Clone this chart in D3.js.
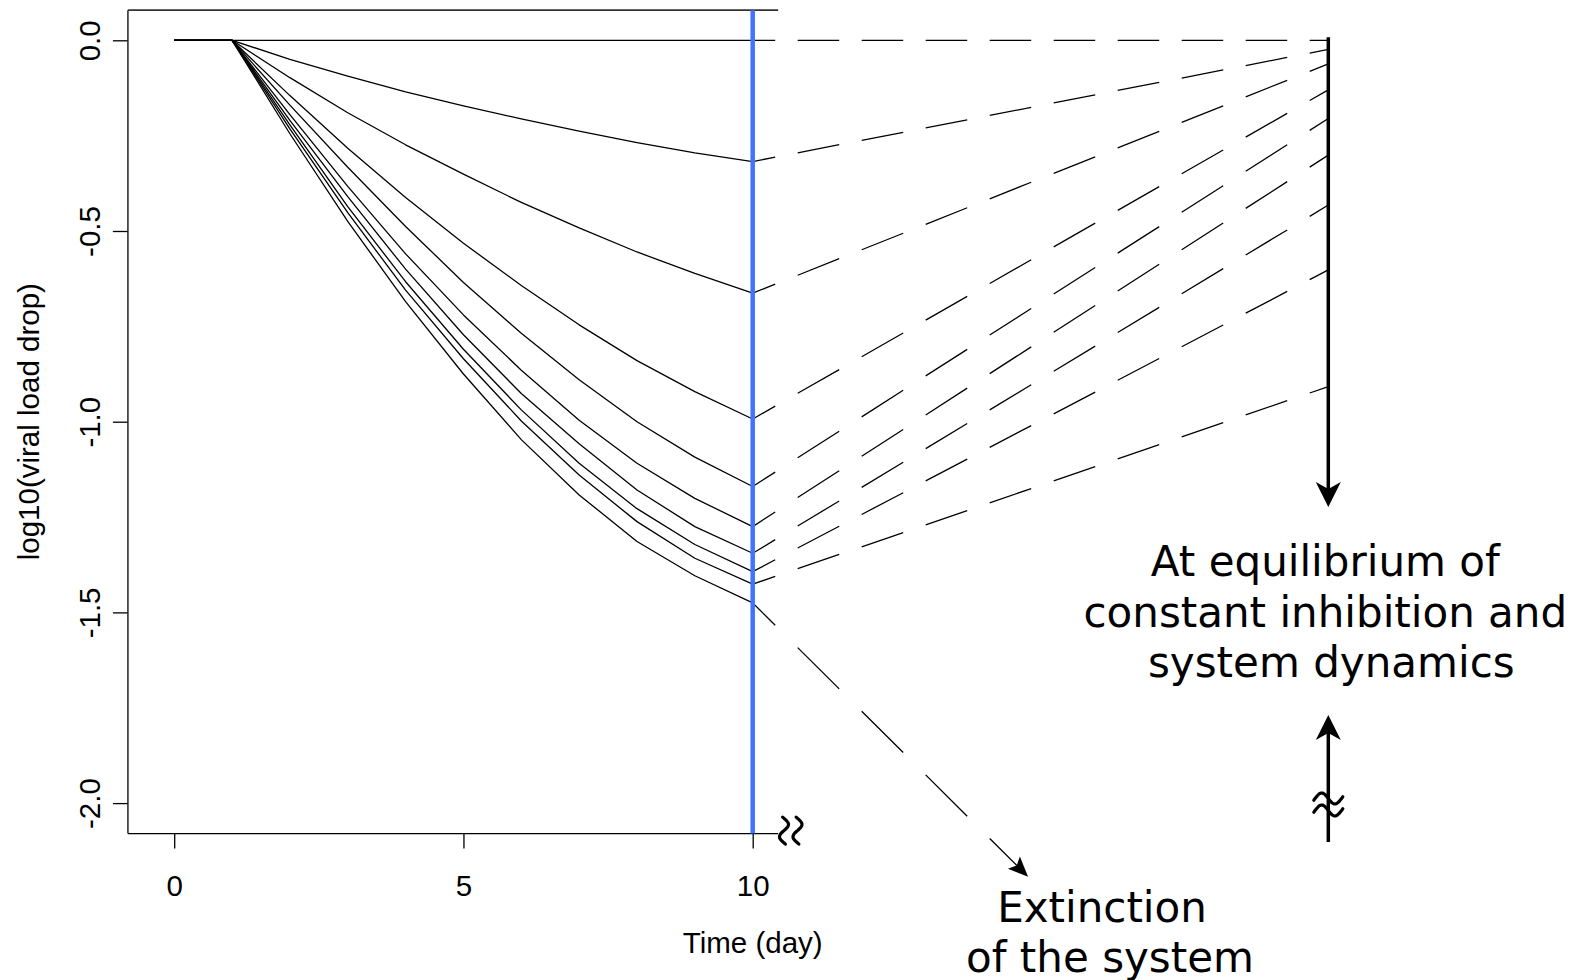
<!DOCTYPE html>
<html>
<head>
<meta charset="utf-8">
<script src="https://cdn.jsdelivr.net/npm/d3@7"></script>
<style>
  html, body { margin: 0; padding: 0; background: #fff; }
  svg { display: block; }
</style>
</head>
<body>
<svg id="chart" width="1580" height="980"></svg>
<script>
// Simulated log10 viral load drop, one series per inhibition level (days 0..10)
const days = [0, 1, 2, 3, 4, 5, 6, 7, 8, 9, 10];
const drop01 = [0, 0, 0, 0, 0, 0, 0, 0, 0, 0, 0];
const drop02 = [0, 0, -0.050, -0.094, -0.135, -0.172, -0.206, -0.238, -0.268, -0.295, -0.318];
const drop03 = [0, 0, -0.098, -0.190, -0.274, -0.351, -0.425, -0.492, -0.555, -0.611, -0.663];
const drop04 = [0, 0, -0.145, -0.283, -0.412, -0.532, -0.643, -0.746, -0.840, -0.921, -0.993];
const drop05 = [0, 0, -0.170, -0.333, -0.488, -0.635, -0.768, -0.890, -1.000, -1.093, -1.170];
const drop06 = [0, 0, -0.195, -0.383, -0.560, -0.720, -0.865, -0.996, -1.109, -1.201, -1.275];
const drop07 = [0, 0, -0.210, -0.410, -0.600, -0.772, -0.926, -1.058, -1.179, -1.275, -1.345];
const drop08 = [0, 0, -0.222, -0.436, -0.633, -0.810, -0.969, -1.109, -1.228, -1.322, -1.393];
const drop09 = [0, 0, -0.232, -0.452, -0.655, -0.835, -0.998, -1.140, -1.262, -1.358, -1.426];
const drop10 = [0, 0, -0.245, -0.475, -0.685, -0.875, -1.047, -1.192, -1.314, -1.404, -1.475];
const seriesDrops = [drop01, drop02, drop03, drop04, drop05, drop06, drop07, drop08, drop09, drop10];

// Long-run (equilibrium) level reached by the first nine series, drawn at a far time position
const equilibriumDay = 19.95;
const equilibriumValues = [0, -0.024, -0.062, -0.130, -0.205, -0.301, -0.432, -0.602, -0.908];
// The last series heads toward extinction
const extinctionEnd = [14.76, -2.193];

const xTicks = [0, 5, 10];
const yTicks = [0, -0.5, -1, -1.5, -2];
const xTitle = "Time (day)";
const yTitle = "log10(viral load drop)";
const equilibriumLabel = ["At equilibrium of", "constant inhibition and", "system dynamics"];
const extinctionLabel = ["Extinction", "of the system"];

const axisFont = "'Liberation Sans', Arial, Helvetica, sans-serif";
const axisSize = 29.5;
const noteFont = "'DejaVu Sans', Verdana, sans-serif";

const svg = d3.select("#chart");
svg.append("rect").attr("width", 1580).attr("height", 980).attr("fill", "#fff");

const x = d3.scaleLinear().domain([0, 10]).range([174.2, 752.7]);
const y = d3.scaleLinear().domain([0, -2]).range([40.3, 803.1]);
const frame = { x0: x(-0.8), x1: x(10.44), y0: y(0.079), y1: y(-2.08) };

// ---- axes ----
const xAxis = d3.axisBottom(x).tickValues(xTicks).tickSize(15).tickSizeOuter(0)
  .tickFormat(d => String(d));
const gx = svg.append("g").attr("transform", `translate(0,${frame.y1})`).call(xAxis);
gx.select(".domain").remove();
gx.attr("font-family", axisFont).attr("font-size", axisSize);
gx.selectAll(".tick line").attr("stroke", "#000").attr("stroke-width", 1.3);
gx.selectAll(".tick text").attr("y", 62).attr("dy", null).attr("fill", "#000");

const yAxis = d3.axisLeft(y).tickValues(yTicks).tickSize(15).tickSizeOuter(0)
  .tickFormat(d => d.toFixed(1));
const gy = svg.append("g").attr("transform", `translate(${frame.x0},0)`).call(yAxis);
gy.select(".domain").remove();
gy.attr("font-family", axisFont).attr("font-size", axisSize);
gy.selectAll(".tick line").attr("stroke", "#000").attr("stroke-width", 1.3);
gy.selectAll(".tick text")
  .attr("x", null).attr("dy", null)
  .attr("text-anchor", "middle")
  .attr("transform", "translate(-27.5,0) rotate(-90)")
  .attr("fill", "#000");

// ---- frame: left, top and bottom edges ----
const frameG = svg.append("g").attr("fill", "none");
frameG.append("line").attr("x1", frame.x0).attr("x2", frame.x0).attr("y1", frame.y0).attr("y2", frame.y1)
  .attr("stroke", "#222").attr("stroke-width", 1.5);
frameG.append("line").attr("x1", frame.x0).attr("x2", frame.x1).attr("y1", frame.y0).attr("y2", frame.y0)
  .attr("stroke", "#333").attr("stroke-width", 1.6);
frameG.append("line").attr("x1", frame.x0).attr("x2", frame.x1).attr("y1", frame.y1).attr("y2", frame.y1)
  .attr("stroke", "#000").attr("stroke-width", 1.4);

// ---- titles ----
svg.append("text").attr("x", x(10)).attr("y", 953)
  .attr("text-anchor", "middle").attr("font-family", axisFont).attr("font-size", axisSize)
  .text(xTitle);
svg.append("text").attr("transform", `translate(38.5,${y(-1)}) rotate(-90)`)
  .attr("text-anchor", "middle").attr("font-family", axisFont).attr("font-size", axisSize)
  .text(yTitle);

// ---- simulated curves ----
const line = d3.line().x((d, i) => x(days[i])).y(d => y(d));
svg.append("g").selectAll("path").data(seriesDrops).join("path")
  .attr("d", line)
  .attr("fill", "none").attr("stroke", "#000").attr("stroke-width", 1.3)
  .attr("stroke-linejoin", "round");

// dash pattern laid out along the horizontal direction, so dashes line up in x
function xDash(x0, y0, x1, y1) {
  const k = Math.hypot(x1 - x0, y1 - y0) / (x1 - x0);
  return { array: `${41.5 * k} ${22.5 * k}`, offset: 19 * k };
}

function arrowHead(tx, ty, dx, dy, len, half, notch) {
  const n = Math.hypot(dx, dy), ux = dx / n, uy = dy / n, px = -uy, py = ux;
  const bx = tx - len * ux, by = ty - len * uy;
  const nx = tx - (len - notch) * ux, ny = ty - (len - notch) * uy;
  return `M${tx},${ty}L${bx + half * px},${by + half * py}L${nx},${ny}L${bx - half * px},${by - half * py}Z`;
}

// ---- dashed links from day 10 to the equilibrium column ----
const xEq = x(equilibriumDay);
const linkG = svg.append("g").attr("fill", "none").attr("stroke", "#000").attr("stroke-width", 1.3);
equilibriumValues.forEach((v, i) => {
  const x0 = x(10), y0 = y(seriesDrops[i][10]), x1 = xEq, y1 = y(v);
  const ds = xDash(x0, y0, x1, y1);
  linkG.append("line").attr("x1", x0).attr("y1", y0).attr("x2", x1).attr("y2", y1)
    .attr("stroke-dasharray", ds.array).attr("stroke-dashoffset", ds.offset);
});

// extinction link with arrow head
{
  const x0 = x(10), y0 = y(drop10[10]);
  const x1 = x(extinctionEnd[0]), y1 = y(extinctionEnd[1]);
  const ds = xDash(x0, y0, x1, y1);
  const n = Math.hypot(x1 - x0, y1 - y0);
  const ex = x1 - (x1 - x0) / n * 8, ey = y1 - (y1 - y0) / n * 8;
  linkG.append("line").attr("x1", x0).attr("y1", y0).attr("x2", ex).attr("y2", ey)
    .attr("stroke-dasharray", ds.array).attr("stroke-dashoffset", ds.offset);
  svg.append("path").attr("d", arrowHead(x1, y1, x1 - x0, y1 - y0, 20, 8.5, 4)).attr("fill", "#000");
}

// ---- marker at day 10 ----
svg.append("line").attr("x1", x(10)).attr("x2", x(10)).attr("y1", frame.y0).attr("y2", frame.y1)
  .attr("stroke", "#4272ff").attr("stroke-width", 4.5);

// ---- equilibrium arrows ----
const arrowG = svg.append("g");
const downTip = 507, upTip = 715, upBase = 842;
arrowG.append("line").attr("x1", xEq).attr("x2", xEq).attr("y1", y(0) - 3).attr("y2", downTip - 14)
  .attr("stroke", "#000").attr("stroke-width", 3.5);
arrowG.append("path").attr("d", arrowHead(xEq, downTip, 0, 1, 25, 12.5, 7)).attr("fill", "#000");
arrowG.append("line").attr("x1", xEq).attr("x2", xEq).attr("y1", upBase).attr("y2", upTip + 14)
  .attr("stroke", "#000").attr("stroke-width", 3.5);
arrowG.append("path").attr("d", arrowHead(xEq, upTip, 0, -1, 25, 12.5, 7)).attr("fill", "#000");

// axis-break marks ("≈" drawn as two waves)
function wave(w, a) {
  const pts = d3.range(0, 21).map(j => {
    const t = -1.1 + 2.2 * j / 20;
    return [t / 1.1 * w / 2, a * Math.sin(Math.PI * t)];
  });
  return d3.line().curve(d3.curveCatmullRom)(pts);
}
const breakG = svg.append("g").attr("fill", "none").attr("stroke", "#000").attr("stroke-width", 3.2)
  .attr("stroke-linecap", "round");
[798.5, 810.5].forEach(cy => {
  breakG.append("path").attr("d", wave(29, 5.5)).attr("transform", `translate(${xEq},${cy})`);
});
[784, 797.5].forEach(cx => {
  breakG.append("path").attr("d", wave(27, 4.5)).attr("transform", `translate(${cx},${frame.y1 - 3}) rotate(90)`);
});

// ---- annotations ----
const eqBase = [576, 626.5, 677];
svg.append("g").attr("font-family", noteFont).attr("font-size", 42).attr("fill", "#000")
  .attr("text-anchor", "middle")
  .selectAll("text").data(equilibriumLabel).join("text")
  .attr("x", (d, i) => i === 2 ? xEq + 3 : xEq - 3)
  .attr("y", (d, i) => eqBase[i])
  .text(d => d);

const exPos = [[1102, 921.5], [1110, 971.5]];
svg.append("g").attr("font-family", noteFont).attr("font-size", 42).attr("fill", "#000")
  .attr("text-anchor", "middle")
  .selectAll("text").data(extinctionLabel).join("text")
  .attr("x", (d, i) => exPos[i][0])
  .attr("y", (d, i) => exPos[i][1])
  .text(d => d);
</script>
</body>
</html>
